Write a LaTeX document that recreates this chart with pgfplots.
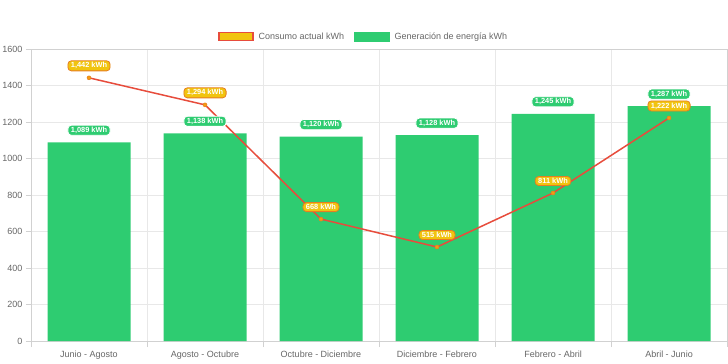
\documentclass[border=0pt]{standalone}
\usepackage{pgfplots}
\pgfplotsset{compat=1.18}
\usepackage{fontspec}
\setmainfont{Liberation Sans}
\definecolor{cGreen}{HTML}{2ECC71}
\definecolor{cYellow}{HTML}{F1C40F}
\definecolor{cRed}{HTML}{E74C3C}
\definecolor{cOrange}{HTML}{E67E22}
\definecolor{cDot}{HTML}{F39C12}
\definecolor{cGrid}{HTML}{E8E8E8}
\definecolor{cText}{HTML}{666666}
\begin{document}
\begin{tikzpicture}
\begin{axis}[
  scale only axis, width=696pt, height=292pt,
  xmin=-0.5, xmax=5.5, ymin=0, ymax=1600,
  xtick={0,1,2,3,4,5},
  xticklabels={Junio - Agosto, Agosto - Octubre, Octubre - Diciembre, Diciembre - Febrero, Febrero - Abril, Abril - Junio},
  minor xtick={-0.5,0.5,1.5,2.5,3.5,4.5,5.5},
  ytick={0,200,...,1600},
  xminorgrids, ymajorgrids,
  grid style={cGrid, line width=0.6pt},
  minor grid style={cGrid, line width=0.6pt},
  axis line style={cGrid!90!black, line width=0.6pt},
  tick style={cGrid!90!black, line width=0.6pt},
  major x tick style={draw=none},
  tick align=outside,
  minor tick length=6pt, major tick length=5pt,
  xtick pos=bottom, ytick pos=left,
  ticklabel style={font=\fontsize{9}{10}\selectfont, text=cText},
  /pgf/number format/assume math mode=true,
  /pgf/number format/1000 sep={},
  xticklabel style={yshift=-1pt},
  legend style={at={(0.478,1)}, anchor=south, yshift=4pt, draw=none, fill=none,
    legend columns=2, font=\fontsize{9}{10}\selectfont, text=cText,
    /tikz/every odd column/.append style={column sep=3pt},
    /tikz/every even column/.append style={column sep=8pt}},
  legend cell align=left,
]
\addlegendimage{legend image code/.code={\draw[fill=cYellow, draw=cRed, line width=1.4pt] (0pt,-4pt) rectangle (34pt,4pt);}}
\addlegendentry{Consumo actual kWh}
\addlegendimage{legend image code/.code={\fill[cGreen] (0pt,-4.6pt) rectangle (35pt,4.6pt);}}
\addlegendentry{Generación de energía kWh}

\addplot[ybar, bar width=83pt, fill=cGreen, draw=none, forget plot]
  coordinates {(0,1089) (1,1138) (2,1120) (3,1128) (4,1245) (5,1287)};

\addplot[cRed, line width=1.5pt, mark=*, mark size=2pt, mark options={fill=cDot, draw=cOrange, line width=0.5pt}, forget plot]
  coordinates {(0,1442) (1,1294) (2,668) (3,515) (4,811) (5,1222)};

\addplot[draw=none, forget plot, nodes near coords, point meta=y,
  nodes near coords={\pgfmathprintnumber[1000 sep={,}]{\pgfplotspointmeta}~kWh},
  every node near coord/.append style={anchor=center, yshift=12pt, fill=cGreen, draw=white, line width=0.8pt,
    rounded corners=3.5pt, text=white, font=\fontsize{7.4}{8}\selectfont\bfseries, inner xsep=3pt, inner ysep=1.8pt}]
  coordinates {(0,1089) (1,1138) (2,1120) (3,1128) (4,1245) (5,1287)};

\addplot[draw=none, forget plot, nodes near coords, point meta=y,
  nodes near coords={\pgfmathprintnumber[1000 sep={,}]{\pgfplotspointmeta}~kWh},
  every node near coord/.append style={anchor=center, yshift=12pt, fill=cYellow, draw=cOrange, line width=0.8pt,
    rounded corners=3.5pt, text=white, font=\fontsize{7.4}{8}\selectfont\bfseries, inner xsep=3pt, inner ysep=1.8pt}]
  coordinates {(0,1442) (1,1294) (2,668) (3,515) (4,811) (5,1222)};
\end{axis}
\pgfresetboundingbox
\path[use as bounding box] ([xshift=-31pt,yshift=-22pt]current axis.south west) rectangle ([xshift=1pt,yshift=49pt]current axis.north east);
\end{tikzpicture}
\end{document}
